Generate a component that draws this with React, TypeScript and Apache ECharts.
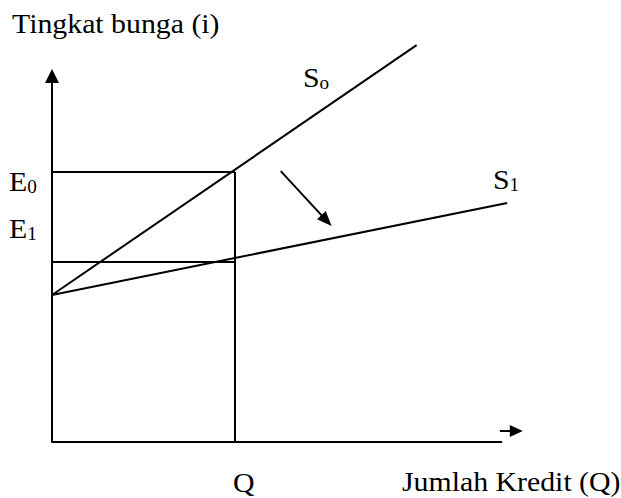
import React, { useEffect, useRef } from "react";
import * as echarts from "echarts";

// ---- Data (x: jumlah kredit Q, y: tingkat bunga i) ----
const xAxisMax = 10.3;
const yAxisMax = 12.2;

// Horizontal axis line (ends before the detached arrow)
const xAxisLine = [
  [0, 0],
  [9.84, 0],
];

// Supply curves [Q, i]
const s0Points = [
  [0, 4.9],
  [7.97, 13.23],
];
const s1Points = [
  [0, 4.9],
  [9.95, 7.97],
];

// Equilibrium guide values
const qValue = 4;
const e0Value = 9;
const e1Value = 6;

const e0Guide = [
  [0, e0Value],
  [qValue, e0Value],
];
const e1Guide = [
  [0, e1Value],
  [qValue, e1Value],
];
const qGuide = [
  [qValue, 0],
  [qValue, e0Value],
];

// Shift arrow (S0 -> S1) and the detached x-axis arrow
const shiftArrow = [
  [5.0, 9.03],
  [6.0, 7.38],
];
const xArrow = [
  [9.79, 0.37],
  [10.15, 0.37],
];

// Texts
const yTitle = "Tingkat bunga (i)";
const xTitle = "Jumlah Kredit (Q)";
const yTickLabels = [
  ["E", "0"],
  ["E", "1"],
];
const xTickLabel = "Q";
const curveLabels = [
  ["S", "o"],
  ["S", "1"],
];

const FONT = "'Liberation Serif', 'Times New Roman', serif";
const FS = 28;
const SUB_FS = 18;
const SX = 1.065;

function richLabel(main: string, sub: string) {
  return `{m|${main}}{s|${sub}}`;
}

const rich = {
  m: { fontSize: FS, fontFamily: FONT, fill: "#000" },
  s: { fontSize: SUB_FS, fontFamily: FONT, fill: "#000", verticalAlign: "bottom" as const },
};

export default function App() {
  const ref = useRef<HTMLDivElement>(null);

  useEffect(() => {
    if (!ref.current) return;
    const chart = echarts.init(ref.current, null, { renderer: "svg" });

    const lineStyle = { color: "#000", width: 2 };
    const seg = (name: string, data: any[]) => ({
      name,
      type: "line" as const,
      data,
      symbol: "none",
      clip: false,
      silent: true,
      lineStyle,
      z: 3,
    });

    const plainText = (text: string, x: number, y: number) => ({
      type: "text" as const,
      x,
      y,
      scaleX: SX,
      silent: true,
      style: {
        text,
        fontSize: FS,
        fontFamily: FONT,
        fill: "#000",
        align: "left",
        verticalAlign: "top",
      },
    });
    const subText = (parts: string[], x: number, y: number) => ({
      type: "text" as const,
      x,
      y,
      scaleX: SX,
      silent: true,
      style: {
        text: richLabel(parts[0], parts[1]),
        rich,
        fill: "#000",
        align: "left",
        verticalAlign: "top",
      },
    });

    const arrowMark = (pts: number[][], size: number[]) => [
      { coord: pts[0], symbol: "none" },
      { coord: pts[1], symbol: "triangle", symbolSize: size },
    ];

    chart.setOption({
      animation: false,
      backgroundColor: "#fff",
      grid: { left: 52, top: 76, width: 471.2, height: 366, containLabel: false },
      xAxis: {
        type: "value",
        min: 0,
        max: xAxisMax,
        axisLine: { show: false },
        axisTick: { show: false },
        axisLabel: { show: false },
        splitLine: { show: false },
      },
      yAxis: {
        type: "value",
        min: 0,
        max: yAxisMax,
        axisLine: {
          show: true,
          onZero: false,
          symbol: ["none", "triangle"],
          symbolSize: [14, 14],
          lineStyle: { color: "#000", width: 2 },
        },
        axisTick: { show: false },
        axisLabel: { show: false },
        splitLine: { show: false },
      },
      series: [
        seg("xAxisLine", xAxisLine),
        seg("S0", s0Points),
        {
          ...seg("S1", s1Points),
          markLine: {
            silent: true,
            symbol: ["none", "triangle"],
            label: { show: false },
            emphasis: { disabled: true },
            lineStyle: { color: "#000", width: 2, type: "solid" },
            data: [arrowMark(shiftArrow, [12, 15]), arrowMark(xArrow, [12, 13])],
          },
        },
        seg("E0", e0Guide),
        seg("E1", e1Guide),
        seg("Q", qGuide),
      ],
      graphic: [
        plainText(yTitle, 12, 9.5),
        subText(yTickLabels[0], 9, 167.5),
        subText(yTickLabels[1], 9, 214.5),
        subText(curveLabels[0], 303, 63.5),
        subText(curveLabels[1], 493, 165.5),
        plainText(xTickLabel, 233, 468.5),
        plainText(xTitle, 402, 467.5),
      ],
    });

    return () => chart.dispose();
  }, []);

  return (
    <div
      ref={ref}
      style={{ position: "fixed", left: 0, top: 0, width: 621, height: 498, background: "#fff" }}
    />
  );
}
